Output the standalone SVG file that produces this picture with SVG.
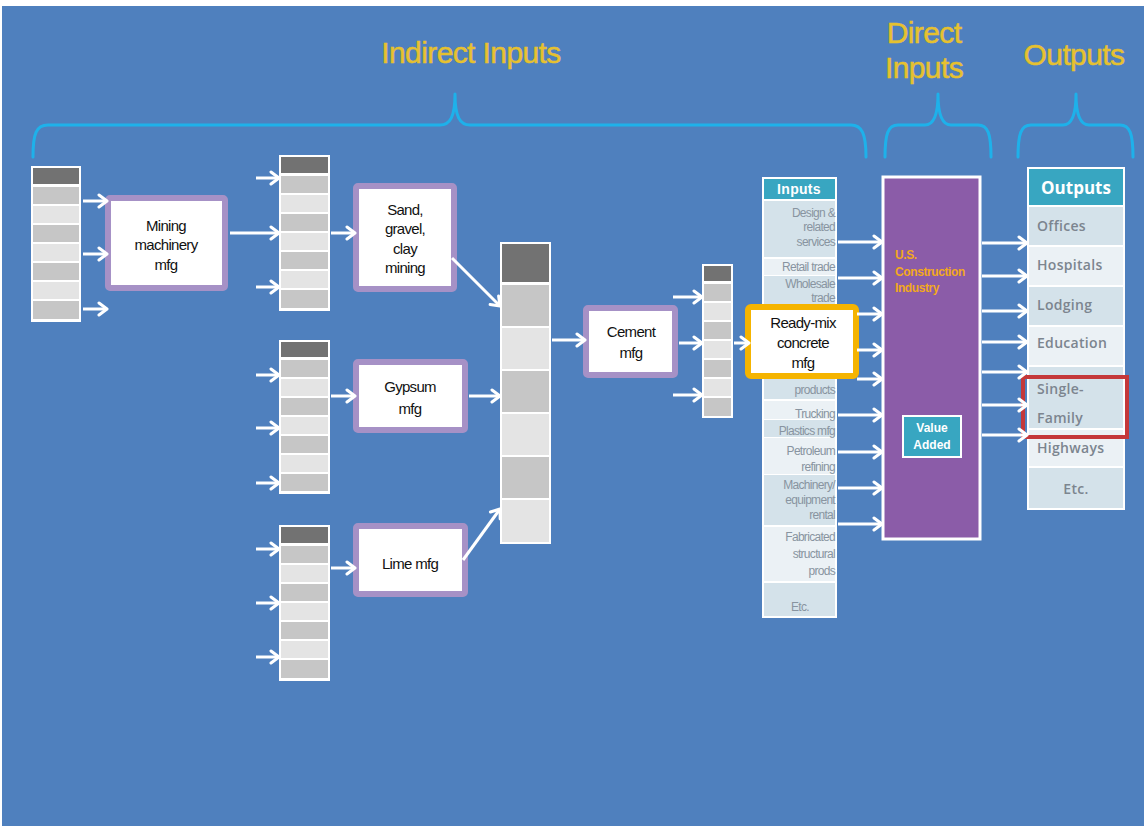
<svg xmlns="http://www.w3.org/2000/svg" width="1144" height="826" viewBox="0 0 1144 826">
<defs>
<style>
.title{font-family:"Liberation Sans",Arial,sans-serif;font-size:30px;fill:#e6c12f;letter-spacing:-0.6px;stroke:#e6c12f;stroke-width:0.5px}
.brace{fill:none;stroke:#1eb1ea;stroke-width:3;stroke-linecap:round;stroke-linejoin:round}
.sk{fill:#ffffff}
.dk{fill:#727272}
.md{fill:#c6c6c6}
.lt{fill:#e4e4e4}
.box{fill:#ffffff;stroke:#a691c6;stroke-width:6}
.rbox{fill:#ffffff;stroke:#f5b400;stroke-width:6}
.bt{font-family:"Liberation Sans",Arial,sans-serif;font-size:15px;fill:#111111;text-anchor:middle;letter-spacing:-0.7px}
.it{font-family:"Liberation Sans",Arial,sans-serif;font-size:12px;fill:#8894a0;text-anchor:end;letter-spacing:-0.7px}
.idk{fill:#d4e2ea}
.ilt{fill:#ebf1f5}
.hdr{fill:#38a6c1}
.ot{font-family:"Open Sans","Liberation Sans",sans-serif;font-size:14px;font-weight:600;fill:#7c858f;letter-spacing:0.3px}
.ct{font-family:"Liberation Sans",Arial,sans-serif;font-size:12px;font-weight:bold;fill:#f2a81d;letter-spacing:-0.4px}
.vt{font-family:"Liberation Sans",Arial,sans-serif;font-size:12px;font-weight:bold;fill:#ffffff;text-anchor:middle}
.arr{fill:none;stroke:#ffffff;stroke-width:3;marker-end:url(#ah)}
</style>
<marker id="ah" markerUnits="userSpaceOnUse" markerWidth="16" markerHeight="16" viewBox="0 0 16 16" refX="12" refY="8" orient="auto">
<path d="M4,2 L12,8 L4,14" fill="none" stroke="#ffffff" stroke-width="3" stroke-linecap="round" stroke-linejoin="round"/>
</marker>
</defs>
<rect x="0" y="0" width="1144" height="826" fill="#ffffff"/>
<rect x="2" y="6" width="1142" height="820" fill="#4f80be"/>

<g id="headers">
<text class="title" x="471" y="63" text-anchor="middle">Indirect Inputs</text>
<text class="title" x="924" y="43" text-anchor="middle">Direct</text>
<text class="title" x="924" y="78" text-anchor="middle">Inputs</text>
<text class="title" x="1074" y="65" text-anchor="middle">Outputs</text>
<path class="brace" d="M33,157 C33,134 36,125 48,125 L440,125 C450,125 455,117 455,94 C455,117 460,125 470,125 L851,125 C862,125 866,134 866,157"/>
<path class="brace" d="M885,157 C885,134 888,125 898,125 L925,125 C933,125 938,117 938,94 C938,117 943,125 951,125 L978,125 C988,125 991,134 991,157"/>
<path class="brace" d="M1018,157 C1018,134 1021,125 1031,125 L1063,125 C1071,125 1076,117 1076,94 C1076,117 1081,125 1089,125 L1120,125 C1130,125 1133,134 1133,157"/>
</g>

<g id="stack1">
<rect class="sk" x="31" y="166" width="50" height="156"/>
<rect class="dk" x="33" y="168" width="46" height="16"/>
<rect class="md" x="33" y="187" width="46" height="17"/>
<rect class="lt" x="33" y="206" width="46" height="17"/>
<rect class="md" x="33" y="225" width="46" height="17"/>
<rect class="lt" x="33" y="244" width="46" height="17"/>
<rect class="md" x="33" y="263" width="46" height="17"/>
<rect class="lt" x="33" y="282" width="46" height="17"/>
<rect class="md" x="33" y="301" width="46" height="18"/>
</g>

<g id="stack2">
<rect class="sk" x="279" y="155" width="51" height="156"/>
<rect class="dk" x="281" y="157" width="47" height="16"/>
<rect class="md" x="281" y="176" width="47" height="17"/>
<rect class="lt" x="281" y="195" width="47" height="17"/>
<rect class="md" x="281" y="214" width="47" height="17"/>
<rect class="lt" x="281" y="233" width="47" height="17"/>
<rect class="md" x="281" y="252" width="47" height="17"/>
<rect class="lt" x="281" y="271" width="47" height="17"/>
<rect class="md" x="281" y="290" width="47" height="18"/>
</g>

<g id="stack3">
<rect class="sk" x="279" y="340" width="51" height="154"/>
<rect class="dk" x="281" y="342" width="47" height="15"/>
<rect class="md" x="281" y="360" width="47" height="17"/>
<rect class="lt" x="281" y="379" width="47" height="17"/>
<rect class="md" x="281" y="398" width="47" height="17"/>
<rect class="lt" x="281" y="417" width="47" height="17"/>
<rect class="md" x="281" y="436" width="47" height="17"/>
<rect class="lt" x="281" y="455" width="47" height="17"/>
<rect class="md" x="281" y="474" width="47" height="17"/>
</g>

<g id="stack4">
<rect class="sk" x="279" y="525" width="51" height="156"/>
<rect class="dk" x="281" y="527" width="47" height="16"/>
<rect class="md" x="281" y="546" width="47" height="17"/>
<rect class="lt" x="281" y="565" width="47" height="17"/>
<rect class="md" x="281" y="584" width="47" height="17"/>
<rect class="lt" x="281" y="603" width="47" height="17"/>
<rect class="md" x="281" y="622" width="47" height="17"/>
<rect class="lt" x="281" y="641" width="47" height="17"/>
<rect class="md" x="281" y="660" width="47" height="18"/>
</g>

<g id="stack-big">
<rect class="sk" x="500" y="242" width="51" height="302"/>
<rect class="dk" x="502" y="244" width="47" height="38"/>
<rect class="md" x="502" y="285" width="47" height="41"/>
<rect class="lt" x="502" y="328" width="47" height="41"/>
<rect class="md" x="502" y="371" width="47" height="41"/>
<rect class="lt" x="502" y="414" width="47" height="41"/>
<rect class="md" x="502" y="457" width="47" height="41"/>
<rect class="lt" x="502" y="500" width="47" height="42"/>
</g>

<g id="stack5">
<rect class="sk" x="702" y="264" width="31" height="154"/>
<rect class="dk" x="704" y="266" width="27" height="15"/>
<rect class="md" x="704" y="284" width="27" height="17"/>
<rect class="lt" x="704" y="303" width="27" height="17"/>
<rect class="md" x="704" y="322" width="27" height="17"/>
<rect class="lt" x="704" y="341" width="27" height="17"/>
<rect class="md" x="704" y="360" width="27" height="17"/>
<rect class="lt" x="704" y="379" width="27" height="17"/>
<rect class="md" x="704" y="398" width="27" height="18"/>
</g>

<g id="mining">
<rect class="box" x="108" y="198" width="117" height="90" rx="2"/>
<text class="bt" x="166" y="231">Mining</text>
<text class="bt" x="166" y="250">machinery</text>
<text class="bt" x="166" y="270">mfg</text>
</g>

<g id="sand">
<rect class="box" x="356" y="186" width="98" height="103" rx="2"/>
<text class="bt" x="405" y="215">Sand,</text>
<text class="bt" x="405" y="234">gravel,</text>
<text class="bt" x="405" y="254">clay</text>
<text class="bt" x="405" y="273">mining</text>
</g>

<g id="gypsum">
<rect class="box" x="356" y="362" width="109" height="68" rx="2"/>
<text class="bt" x="410" y="392">Gypsum</text>
<text class="bt" x="410" y="414">mfg</text>
</g>

<g id="lime">
<rect class="box" x="356" y="526" width="109" height="68" rx="2"/>
<text class="bt" x="410" y="569">Lime mfg</text>
</g>

<g id="cement">
<rect class="box" x="586" y="308" width="89" height="67" rx="2"/>
<text class="bt" x="631" y="337">Cement</text>
<text class="bt" x="631" y="358">mfg</text>
</g>

<g id="inputs">
<rect x="762" y="177" width="75" height="441" fill="#ffffff"/>
<rect class="hdr" x="764" y="179" width="71" height="20"/>
<text x="799" y="194" text-anchor="middle" font-family="Liberation Sans, Arial, sans-serif" font-size="14" font-weight="bold" fill="#ffffff" letter-spacing="0.3">Inputs</text>
<rect class="idk" x="764" y="201" width="71" height="56"/>
<rect class="ilt" x="764" y="259" width="71" height="16"/>
<rect class="idk" x="764" y="276" width="71" height="41"/>
<rect class="idk" x="764" y="318" width="71" height="81"/>
<rect class="ilt" x="764" y="401" width="71" height="18"/>
<rect class="idk" x="764" y="420" width="71" height="17"/>
<rect class="ilt" x="764" y="438" width="71" height="36"/>
<rect class="idk" x="764" y="475" width="71" height="50"/>
<rect class="ilt" x="764" y="527" width="71" height="54"/>
<rect class="idk" x="764" y="583" width="71" height="33"/>
<text class="it" x="835" y="217">Design &amp;</text>
<text class="it" x="835" y="231">related</text>
<text class="it" x="835" y="246">services</text>
<text class="it" x="835" y="271">Retail trade</text>
<text class="it" x="835" y="288">Wholesale</text>
<text class="it" x="835" y="302">trade</text>
<text class="it" x="835" y="394">products</text>
<text class="it" x="835" y="418">Trucking</text>
<text class="it" x="835" y="435">Plastics mfg</text>
<text class="it" x="835" y="455">Petroleum</text>
<text class="it" x="835" y="471">refining</text>
<text class="it" x="835" y="489">Machinery/</text>
<text class="it" x="835" y="504">equipment</text>
<text class="it" x="835" y="519">rental</text>
<text class="it" x="835" y="541">Fabricated</text>
<text class="it" x="835" y="558">structural</text>
<text class="it" x="835" y="575">prods</text>
<text class="it" x="800" y="611" text-anchor="middle" style="text-anchor:middle">Etc.</text>
</g>

<g id="readymix">
<rect class="rbox" x="748" y="307" width="108" height="69" rx="3"/>
<text class="bt" x="803" y="328">Ready-mix</text>
<text class="bt" x="803" y="348">concrete</text>
<text class="bt" x="803" y="368">mfg</text>
</g>

<g id="construction">
<rect x="883" y="177" width="97" height="362" fill="#8b5ca8" stroke="#ffffff" stroke-width="3"/>
<text class="ct" x="895" y="259">U.S.</text>
<text class="ct" x="895" y="276">Construction</text>
<text class="ct" x="895" y="292">Industry</text>
<rect x="903" y="416" width="58" height="41" fill="#38a6c1" stroke="#ffffff" stroke-width="2"/>
<text class="vt" x="932" y="432">Value</text>
<text class="vt" x="932" y="449">Added</text>
</g>

<g id="outputs">
<rect x="1027" y="167" width="98" height="343" fill="#ffffff"/>
<rect class="hdr" x="1029" y="169" width="94" height="36"/>
<text x="1076" y="194" text-anchor="middle" font-family="Open Sans, Liberation Sans, sans-serif" font-size="17" font-weight="bold" fill="#ffffff">Outputs</text>
<rect class="idk" x="1029" y="207" width="94" height="38"/>
<rect class="ilt" x="1029" y="247" width="94" height="38"/>
<rect class="idk" x="1029" y="287" width="94" height="38"/>
<rect class="ilt" x="1029" y="327" width="94" height="38"/>
<rect class="idk" x="1029" y="367" width="94" height="61"/>
<rect class="ilt" x="1029" y="430" width="94" height="36"/>
<rect class="idk" x="1029" y="468" width="94" height="40"/>
<text class="ot" x="1037" y="231">Offices</text>
<text class="ot" x="1037" y="270">Hospitals</text>
<text class="ot" x="1037" y="310">Lodging</text>
<text class="ot" x="1037" y="348">Education</text>
<text class="ot" x="1037" y="394">Single-</text>
<text class="ot" x="1037" y="423">Family</text>
<text class="ot" x="1037" y="453">Highways</text>
<text class="ot" x="1076" y="494" text-anchor="middle">Etc.</text>
<rect x="1023" y="377" width="104" height="60" fill="none" stroke="#c4383a" stroke-width="4"/>
</g>

<g id="connectors">
<path class="arr" d="M83,201 H107"/>
<path class="arr" d="M83,254 H107"/>
<path class="arr" d="M83,309 H107"/>
<path class="arr" d="M230,233 H279"/>
<path class="arr" d="M256,178 H279"/>
<path class="arr" d="M256,287 H279"/>
<path class="arr" d="M331,233 H355"/>
<path class="arr" d="M452,258 L500,306"/>
<path class="arr" d="M256,375 H279"/>
<path class="arr" d="M256,428 H279"/>
<path class="arr" d="M256,483 H279"/>
<path class="arr" d="M331,396 H355"/>
<path class="arr" d="M469,396 H500"/>
<path class="arr" d="M256,549 H279"/>
<path class="arr" d="M256,603 H279"/>
<path class="arr" d="M256,657 H279"/>
<path class="arr" d="M331,568 H355"/>
<path class="arr" d="M463,560 L500,509"/>
<path class="arr" d="M552,340 H585"/>
<path class="arr" d="M673,297 H702"/>
<path class="arr" d="M679,343 H702"/>
<path class="arr" d="M673,395 H702"/>
<path class="arr" d="M734,343 H749"/>
<path class="arr" d="M838,242 H882"/>
<path class="arr" d="M838,278 H882"/>
<path class="arr" d="M857,314 H882"/>
<path class="arr" d="M857,350 H882"/>
<path class="arr" d="M857,379 H882"/>
<path class="arr" d="M838,415 H882"/>
<path class="arr" d="M838,452 H882"/>
<path class="arr" d="M838,488 H882"/>
<path class="arr" d="M838,524 H882"/>
<path class="arr" d="M982,243 H1027"/>
<path class="arr" d="M982,276 H1027"/>
<path class="arr" d="M982,311 H1027"/>
<path class="arr" d="M982,342 H1027"/>
<path class="arr" d="M982,372 H1027"/>
<path class="arr" d="M982,405 H1027"/>
<path class="arr" d="M982,435 H1027"/>
</g>
</svg>
